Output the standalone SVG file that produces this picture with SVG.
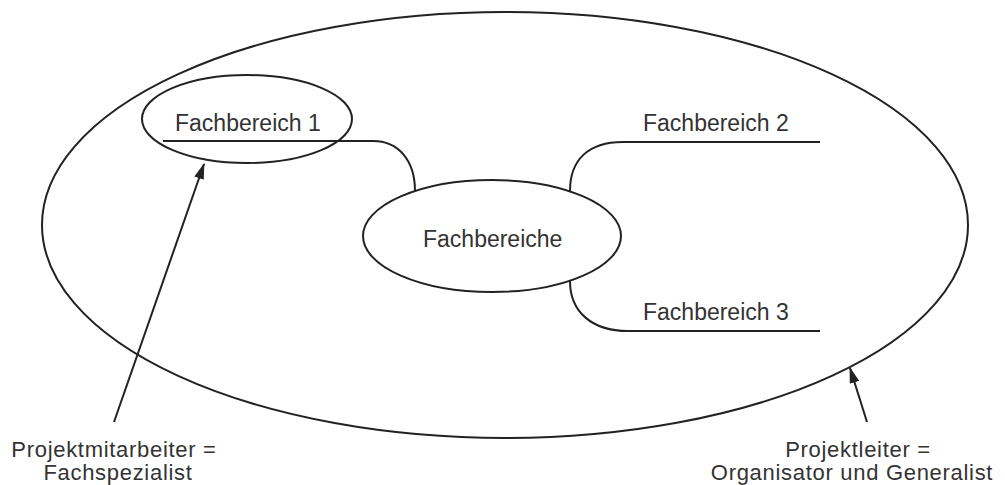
<svg xmlns="http://www.w3.org/2000/svg" width="1005" height="485" viewBox="0 0 1005 485">
<defs>
<style>
.ln{fill:none;stroke:#222;stroke-width:2}
.el{fill:none;stroke:#222;stroke-width:2}
.t{font-family:"Liberation Sans",Arial,sans-serif;font-size:23px;fill:#333}
.b{font-family:"Liberation Sans",Arial,sans-serif;font-size:22px;letter-spacing:0.7px;fill:#333;text-anchor:middle}
</style>
<marker id="ah" markerWidth="16" markerHeight="10" refX="15" refY="5" orient="auto" markerUnits="userSpaceOnUse">
<path d="M0,0 L16,5 L0,10 Z" fill="#222"/>
</marker>
</defs>
<rect width="1005" height="485" fill="#fff"/>
<g id="projekt">
<ellipse class="el" cx="505" cy="225" rx="463" ry="213"/>
</g>
<g id="fachbereiche">
<ellipse class="el" cx="492" cy="236" rx="129" ry="56"/>
<text class="t" x="423" y="247">Fachbereiche</text>
</g>
<g id="fb1">
<ellipse class="el" cx="247" cy="119" rx="105" ry="44"/>
<text class="t" x="175" y="131">Fachbereich 1</text>
</g>
<g id="fb2">
<text class="t" x="643" y="131">Fachbereich 2</text>
</g>
<g id="fb3">
<text class="t" x="643" y="320">Fachbereich 3</text>
</g>
<g id="label-mitarbeiter">
<text class="b" x="114" y="457">Projektmitarbeiter =</text>
<text class="b" x="118" y="480">Fachspezialist</text>
</g>
<g id="label-leiter">
<text class="b" x="858" y="457">Projektleiter =</text>
<text class="b" x="852" y="480">Organisator und Generalist</text>
</g>
<g id="connectors">
<path class="ln" d="M163,141 H373 C398,141 415,160 415,191"/>
<path class="ln" d="M570,191 C570,160 588,142 623,142 H820"/>
<path class="ln" d="M570,281 C570,312 592,331 628,331 H820"/>
<path class="ln" d="M114,422 L204,164" marker-end="url(#ah)"/>
<path class="ln" d="M867,422 L850,368" marker-end="url(#ah)"/>
</g>
</svg>
